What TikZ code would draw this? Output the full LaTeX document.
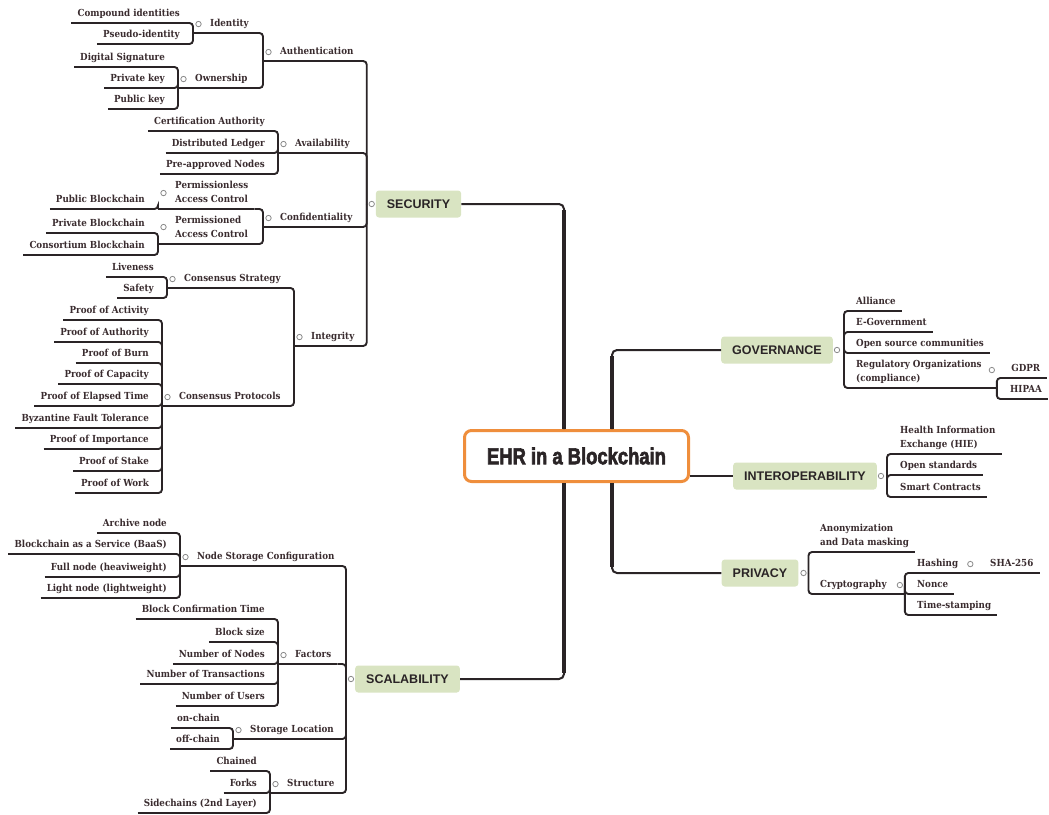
\documentclass[tikz,border=0pt]{standalone}
\usepackage{fontspec}
\usetikzlibrary{calc}
\newfontfamily\slabfont{DejaVu Serif Condensed}
\newfontfamily\catfont{Liberation Sans}
\newfontfamily\titlefont[FakeBold=3]{Liberation Sans Bold}
\definecolor{ink}{HTML}{2A2426}
\definecolor{labelink}{HTML}{3A2C2F}
\definecolor{sage}{HTML}{D9E4C2}
\definecolor{amber}{HTML}{EF8E3C}
\definecolor{knobgray}{HTML}{8A8A8A}
\newcommand\lpad{\kern11pt}
\newcommand\twoline[2]{\begin{tabular}[b]{@{}l@{}}#1\\#2\end{tabular}}

\tikzset{
  lbltext/.style={font=\slabfont\bfseries\fontsize{9.7}{13.5}\selectfont,
    text=labelink, inner xsep=6pt, inner ysep=4pt, text height=7pt, text depth=2.5pt},
  lleaf/.style={lbltext, anchor=south east},
  lhub/.style={lbltext, anchor=south west},
  rleaf/.style={lbltext, anchor=south west},
  topic/.style={font=\catfont\bfseries\fontsize{12.5}{14}\selectfont, text=ink,
    fill=sage, rounded corners=3pt, minimum height=27pt, inner xsep=11pt, inner ysep=0pt},
  rootbox/.style={draw=amber, line width=3pt, fill=white, rounded corners=7pt,
    minimum width=224pt, minimum height=51pt, text=ink,
    font=\titlefont\fontsize{23}{25}\selectfont},
  trunk/.style={draw=ink, line width=2pt, rounded corners=5pt},
  trunkbase/.style={draw=ink, line width=3.6pt},
  twig/.style={draw=ink, line width=1.9pt, rounded corners=3.5pt},
  knob/.style={draw=knobgray, fill=white, line width=0.8pt},
}

\begin{document}
\begin{tikzpicture}[x=1pt,y=-1pt]
\useasboundingbox (0,0) rectangle (1049,814);

% central topic and main branches
\node[rootbox] (root) at (576.5,456) {\scalebox{0.8}[1]{EHR in a Blockchain}};
\node[topic] (sec) at (418.5,204) {SECURITY};
\node[topic] (scal) at (407.5,679) {SCALABILITY};
\node[topic] (gov) at (777,350) {GOVERNANCE};
\node[topic] (inter) at (805,476) {INTEROPERABILITY};
\node[topic] (priv) at (760,573) {PRIVACY};

\coordinate (secv) at ([xshift=-9pt]sec.west);
\coordinate (scav) at ([xshift=-9pt]scal.west);
\coordinate (govv) at ([xshift=11pt]gov.east);
\coordinate (intv) at ([xshift=10pt]inter.east);
\coordinate (privv) at ([xshift=10pt]priv.east);

% security
\node[lhub] (auth) at (263,61) {\lpad Authentication};
\node[lhub] (idn) at (193,33) {\lpad Identity};
\node[lleaf] (ci) at (186,23) {Compound identities};
\node[lleaf] (pid) at (186,44) {Pseudo-identity};
\node[lhub] (own) at (178,88) {\lpad Ownership};
\node[lleaf] (dsig) at (171,67) {Digital Signature};
\node[lleaf] (pk) at (171,88) {Private key};
\node[lleaf] (pubk) at (171,109) {Public key};
\node[lhub] (avail) at (278,153) {\lpad Availability};
\node[lleaf] (ca) at (271,131) {Certification Authority};
\node[lleaf] (dl) at (271,153) {Distributed Ledger};
\node[lleaf] (pan) at (271,174) {Pre-approved Nodes};
\node[lhub] (conf) at (263,227) {\lpad Confidentiality};
\node[lhub] (pless) at (158,209) {\lpad\twoline{Permissionless}{Access Control}};
\node[lleaf] (pubb) at (151,209) {Public Blockchain};
\node[lhub] (pned) at (158,244) {\lpad\twoline{Permissioned}{Access Control}};
\node[lleaf] (privb) at (151,233) {Private Blockchain};
\node[lleaf] (consb) at (151,255) {Consortium Blockchain};
\node[lhub] (integ) at (294,346) {\lpad Integrity};
\node[lhub] (cstrat) at (167,288) {\lpad Consensus Strategy};
\node[lleaf] (live) at (160,277) {Liveness};
\node[lleaf] (safe) at (160,298) {Safety};
\node[lhub] (cprot) at (162,406) {\lpad Consensus Protocols};
\node[lleaf] (poac) at (155,320) {Proof of Activity};
\node[lleaf] (poau) at (155,342) {Proof of Authority};
\node[lleaf] (pob) at (155,363) {Proof of Burn};
\node[lleaf] (poc) at (155,384) {Proof of Capacity};
\node[lleaf] (pet) at (155,406) {Proof of Elapsed Time};
\node[lleaf] (bft) at (155,428) {Byzantine Fault Tolerance};
\node[lleaf] (poi) at (155,449) {Proof of Importance};
\node[lleaf] (pos) at (155,471) {Proof of Stake};
\node[lleaf] (pow) at (155,493) {Proof of Work};

% scalability
\node[lhub] (nsc) at (180,566) {\lpad Node Storage Configuration};
\node[lleaf] (arch) at (173,533) {Archive node};
\node[lleaf] (baas) at (173,554) {Blockchain as a Service (BaaS)};
\node[lleaf] (full) at (173,577) {Full node (heaviweight)};
\node[lleaf] (light) at (173,598) {Light node (lightweight)};
\node[lhub] (fac) at (278,664) {\lpad Factors};
\node[lleaf] (bct) at (271,619) {Block Confirmation Time};
\node[lleaf] (bsz) at (271,642) {Block size};
\node[lleaf] (non) at (271,664) {Number of Nodes};
\node[lleaf] (nots) at (271,684) {Number of Transactions};
\node[lleaf] (nou) at (271,706) {Number of Users};
\node[lhub] (sloc) at (233,739) {\lpad Storage Location};
\node[lleaf] (onc) at (226,728) {on-chain};
\node[lleaf] (offc) at (226,749) {off-chain};
\node[lhub] (struc) at (270,793) {\lpad Structure};
\node[lleaf] (chn) at (263,771) {Chained};
\node[lleaf] (frk) at (263,793) {Forks};
\node[lleaf] (side) at (263,813) {Sidechains (2nd Layer)};

% governance
\node[rleaf] (all) at (850,311) {Alliance};
\node[rleaf] (egov) at (850,332) {E-Government};
\node[rleaf] (osc) at (850,353) {Open source communities};
\node[rleaf] (reg) at (850,388) {\twoline{Regulatory Organizations}{(compliance)}\kern9pt};
\node[rleaf, minimum width=43pt] (gdpr) at (1004,378) {GDPR};
\node[rleaf, minimum width=43pt] (hipaa) at (1004,399) {HIPAA};

% interoperability
\node[rleaf] (hie) at (894,454) {\twoline{Health Information}{Exchange (HIE)}};
\node[rleaf] (ostd) at (894,475) {Open standards};
\node[rleaf] (smc) at (894,497) {Smart Contracts};

% privacy
\node[rleaf] (anon) at (814,552) {\twoline{Anonymization}{and Data masking}};
\node[rleaf] (cry) at (814,594) {Cryptography\kern12pt};
\node[rleaf] (hash) at (911,573) {Hashing\kern12pt};
\node[rleaf] (sha) at (984,573) {SHA-256};
\node[rleaf] (nonce) at (911,594) {Nonce};
\node[rleaf] (tst) at (911,615) {Time-stamping};

% main connectors from the central topic
\coordinate (rsec) at ([xshift=-12.5pt]root.north);
\coordinate (rsca) at ([xshift=-12.5pt]root.south);
\coordinate (rgov) at ([xshift=35.5pt]root.north);
\coordinate (rpri) at ([xshift=35.5pt]root.south);
\draw[trunk] (rsec) |- (sec.east);
\draw[trunk] (rsca) |- (scal.east);
\draw[trunk] (rgov) |- (gov.west);
\draw[trunk] (rpri) |- (priv.west);
\draw[trunk] (root.east |- inter.west) -- (inter.west);
\draw[trunkbase] (rsec) -- ($(rsec |- sec.east)+(0,6)$);
\draw[trunkbase] (rsca) -- ($(rsca |- scal.east)+(0,-6)$);
\draw[trunkbase] (rgov) -- ($(rgov |- gov.west)+(0,6)$);
\draw[trunkbase] (rpri) -- ($(rpri |- priv.west)+(0,-6)$);

% underlines of every label
\foreach \n in {auth,idn,ci,pid,own,dsig,pk,pubk,avail,ca,dl,pan,conf,pless,pubb,pned,
    privb,consb,integ,cstrat,live,safe,cprot,poac,poau,pob,poc,pet,bft,poi,pos,pow,
    nsc,arch,baas,full,light,fac,bct,bsz,non,nots,nou,sloc,onc,offc,struc,chn,frk,side,
    all,egov,osc,reg,gdpr,hipaa,hie,ostd,smc,anon,cry,hash,sha,nonce,tst}
  \draw[twig] (\n.south west) -- (\n.south east);

% left-hand branches: child to parent
\foreach \c/\p in {ci/idn,pid/idn,dsig/own,pk/own,pubk/own,idn/auth,own/auth,
    ca/avail,dl/avail,pan/avail,pubb/pless,privb/pned,consb/pned,pless/conf,pned/conf,
    live/cstrat,safe/cstrat,poac/cprot,poau/cprot,pob/cprot,poc/cprot,pet/cprot,
    bft/cprot,poi/cprot,pos/cprot,pow/cprot,cstrat/integ,cprot/integ,
    arch/nsc,baas/nsc,full/nsc,light/nsc,bct/fac,bsz/fac,non/fac,nots/fac,nou/fac,
    onc/sloc,offc/sloc,chn/struc,frk/struc,side/struc}
  \draw[twig] (\c.south east) -| (\p.south west);
\foreach \c in {auth,avail,conf,integ}
  \draw[twig] (\c.south east) -| (secv);
\foreach \c in {nsc,fac,sloc,struc}
  \draw[twig] (\c.south east) -| (scav);

% right-hand branches: parent to child
\foreach \c in {all,egov,osc,reg}
  \draw[twig] (govv) |- (\c.south west);
\foreach \c in {gdpr,hipaa}
  \draw[twig] (reg.south east) |- (\c.south west);
\foreach \c in {hie,ostd,smc}
  \draw[twig] (intv) |- (\c.south west);
\foreach \c in {anon,cry}
  \draw[twig] (privv) |- (\c.south west);
\foreach \c in {hash,nonce,tst}
  \draw[twig] (cry.south east) |- (\c.south west);
\draw[twig] (hash.south east) -- (sha.south west);

% collapse knobs
\foreach \n/\dy in {auth/0,idn/0,own/0,avail/0,conf/0,pless/7,pned/8,integ/0,
    cstrat/0,cprot/0,nsc/0,fac/0,sloc/0,struc/0}
  \draw[knob] ([xshift=5.5pt,yshift=\dy pt]\n.west) circle (2.7);
\draw[knob] ([xshift=-5pt,yshift=9pt]reg.east) circle (2.7);
\draw[knob] ([xshift=-5pt]cry.east) circle (2.7);
\draw[knob] ([xshift=-6pt]hash.east) circle (2.7);
\draw[knob] ([xshift=-4pt]sec.west) circle (2.7);
\draw[knob] ([xshift=-4pt]scal.west) circle (2.7);
\draw[knob] ([xshift=4pt]gov.east) circle (2.7);
\draw[knob] ([xshift=4pt]inter.east) circle (2.7);
\draw[knob] ([xshift=5pt]priv.east) circle (2.7);
\end{tikzpicture}
\end{document}
